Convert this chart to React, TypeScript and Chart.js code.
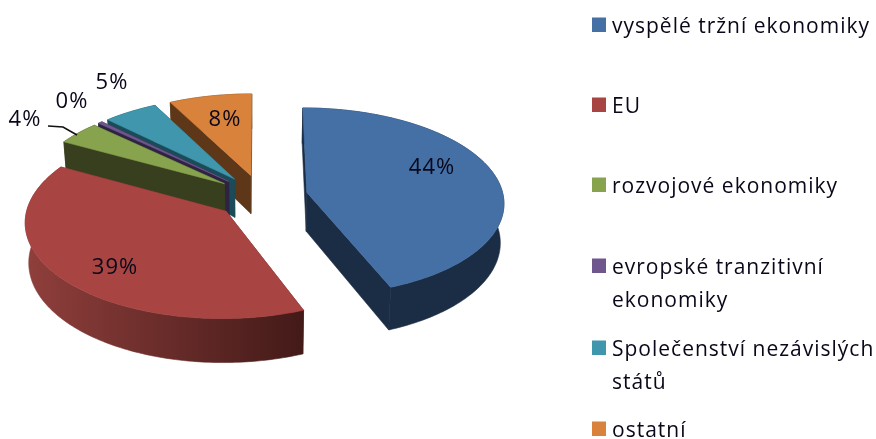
import React, { useEffect, useRef } from "react";
import { Chart, registerables } from "chart.js";

Chart.register(...registerables);

const categories = [
  "vyspělé tržní ekonomiky",
  "EU",
  "rozvojové ekonomiky",
  "evropské tranzitivní ekonomiky",
  "Společenství nezávislých států",
  "ostatní",
];
const shares = [44, 39, 4, 0.4, 5, 7.6];
const topColors = ["#4470A6", "#A84442", "#87A34D", "#6F568D", "#3F96AD", "#D9823B"];
const wallColors = ["#1B2D45", "#6E2E2C", "#383F1F", "#2E2342", "#1B4A58", "#5E3718"];

// Perspective model of the pie (ground plane -> screen)
const SCALE_X = 1.0;
const SCALE_Y = 0.476;
const PERSPECTIVE = 0.0986;
const EXPLODE = 0.236;
const DEPTH = 39;
const BOTTOM_SHRINK = 0.985;
const LABEL_POS = [
  [432, 168],
  [115, 268],
  [25, 120],
  [72, 102],
  [112, 83],
  [225, 120],
];
const LEGEND_Y = [25, 105, 185, 266, 348, 429];

const pie3d = {
  id: "pie3d",
  beforeDatasetsDraw(chart: any) {
    const ctx: any = chart.ctx;
    const arcs = chart.getDatasetMeta(0).data;
    const first = arcs[0];
    const cx = first.x + 1.5;
    const cy = first.y;
    const rx = first.outerRadius * SCALE_X;
    const ry = first.outerRadius * SCALE_Y;
    const proj = (u: number, v: number, z: number) => {
      const w = 1 + PERSPECTIVE * v;
      const k = z ? BOTTOM_SHRINK : 1;
      return [cx + (rx * u * k) / w, cy + (-ry * v + z) / w];
    };
    const order = arcs
      .map((arc: any, i: number) => {
        const mid = (arc.startAngle + arc.endAngle) / 2 + Math.PI / 2;
        return { arc, i, eu: EXPLODE * Math.sin(mid), ev: EXPLODE * Math.cos(mid) };
      })
      .sort((a: any, b: any) => b.ev - a.ev);

    const poly = (pts: number[][], fill: any) => {
      ctx.beginPath();
      pts.forEach((p, k) => (k ? ctx.lineTo(p[0], p[1]) : ctx.moveTo(p[0], p[1])));
      ctx.closePath();
      ctx.fillStyle = fill;
      ctx.strokeStyle = fill;
      ctx.lineWidth = 0.6;
      ctx.fill();
      ctx.stroke();
    };

    order.forEach(({ arc, i, eu, ev }: any) => {
      const a0 = arc.startAngle + Math.PI / 2;
      const a1 = arc.endAngle + Math.PI / 2;
      const n = Math.max(3, Math.ceil((a1 - a0) / 0.02));
      const rim: number[][] = [];
      for (let k = 0; k <= n; k++) {
        const a = a0 + ((a1 - a0) * k) / n;
        rim.push([eu + Math.sin(a), ev + Math.cos(a)]);
      }
      const top = (p: number[]) => proj(p[0], p[1], 0);
      const bot = (p: number[]) => proj(p[0], p[1], DEPTH);
      const apex = [eu, ev];
      const wall = wallColors[i];
      poly([top(apex), top(rim[0]), bot(rim[0]), bot(apex)], wall);
      poly([top(apex), top(rim[n]), bot(rim[n]), bot(apex)], wall);
      let outerFill: any = wall;
      if (i === 1) {
        const g = ctx.createLinearGradient(24, 0, 303, 0);
        g.addColorStop(0, "#903F3C");
        g.addColorStop(1, "#431A18");
        outerFill = g;
      }
      const outer = rim.map(top).concat(rim.slice().reverse().map(bot));
      poly(outer, outerFill);
      poly([top(apex), ...rim.map(top)], topColors[i]);
    });

    // leader line of the 4 % label
    ctx.beginPath();
    ctx.moveTo(48, 126);
    ctx.lineTo(63, 127);
    ctx.lineTo(77, 135);
    ctx.strokeStyle = "#111";
    ctx.lineWidth = 1.6;
    ctx.stroke();

    // data labels
    ctx.font = "22px 'Open Sans'";
    ctx.letterSpacing = "1px";
    ctx.fillStyle = "#08081a";
    ctx.textAlign = "center";
    ctx.textBaseline = "middle";
    shares.forEach((s, i) => {
      ctx.fillText(Math.round(s) + "%", LABEL_POS[i][0], LABEL_POS[i][1]);
    });

    // legend
    ctx.font = "21px 'Open Sans'";
    ctx.letterSpacing = "1px";
    ctx.textAlign = "left";
    ctx.textBaseline = "alphabetic";
    categories.forEach((name, i) => {
      const y = LEGEND_Y[i];
      ctx.fillStyle = topColors[i];
      ctx.fillRect(592, y - 7.5, 14, 14.5);
      const lines: string[] = [];
      let line = "";
      name.split(" ").forEach((word) => {
        const test = line ? line + " " + word : word;
        if (ctx.measureText(test).width > 272 && line) {
          lines.push(line);
          line = word;
        } else line = test;
      });
      lines.push(line);
      ctx.fillStyle = "#08081a";
      lines.forEach((t, k) => ctx.fillText(t, 612, y + 8 + k * 32.5));
    });
    ctx.letterSpacing = "0px";
    return false;
  },
};

export default function App() {
  const ref = useRef<HTMLCanvasElement>(null);
  useEffect(() => {
    const chart = new Chart(ref.current!, {
      type: "pie",
      data: {
        labels: categories,
        datasets: [{ data: shares, backgroundColor: topColors, borderWidth: 0 }],
      },
      options: {
        responsive: false,
        animation: false,
        layout: { padding: { top: 0, bottom: 46, left: 0, right: 356 } },
        plugins: { legend: { display: false }, tooltip: { enabled: false } },
      },
      plugins: [pie3d as any],
    });
    return () => chart.destroy();
  }, []);
  return (
    <div style={{ position: "fixed", left: 0, top: 0, width: 876, height: 439, background: "#fff" }}>
      <canvas ref={ref} width={876} height={439} style={{ display: "block", filter: "blur(0.6px)" }} />
    </div>
  );
}
